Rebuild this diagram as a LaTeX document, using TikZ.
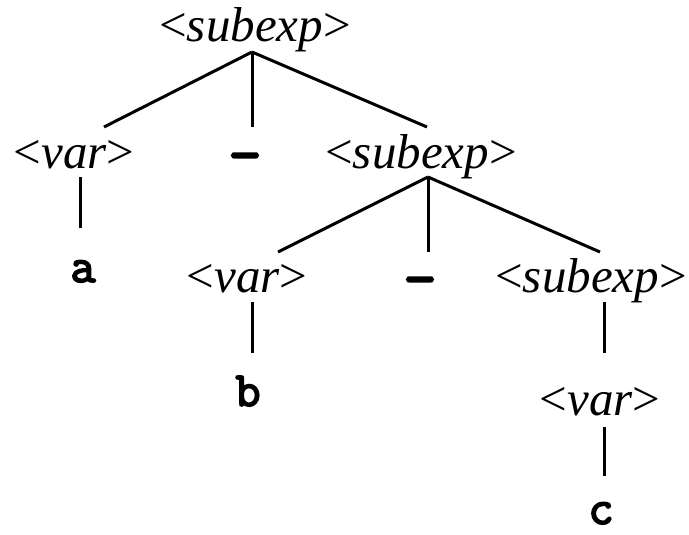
\documentclass[tikz,border=0pt]{standalone}
\usepackage{fontspec}
\setmainfont{Liberation Serif}
\newfontfamily\termfont[FakeBold=3.5]{Latin Modern Mono}
\usepackage{tikz}
\usetikzlibrary{positioning}

\newcommand{\nt}[1]{<\textit{#1}>}

\begin{document}
\begin{tikzpicture}[x=1pt,y=-1pt,
nterm/.style={inner sep=0pt,anchor=base,font=\fontsize{49}{57}\selectfont},
term/.style={inner sep=0pt,anchor=base,font=\fontsize{49}{57}\termfont},
dashsym/.style={term,font=\fontsize{64}{70}\termfont},
edge/.style={line width=3pt}]
\useasboundingbox (0,0) rectangle (689,535);
\node[nterm] (root) at (255,42) {\nt{subexp}};
\node[nterm] (varA) at (74,168) {\nt{var}};
\node[dashsym] (minA) at (245,175) {-};
\node[nterm] (subA) at (421,168) {\nt{subexp}};
\node[term] (a) at (83,282) {a};
\node[nterm] (varB) at (247,292) {\nt{var}};
\node[dashsym] (minB) at (420,299) {-};
\node[nterm] (subB) at (591,292) {\nt{subexp}};
\node[term] (b) at (248,406) {b};
\node[nterm] (varC) at (600,415) {\nt{var}};
\node[term] (c) at (601,524) {c};
\draw[edge] ([xshift=-3pt,yshift=-10pt]root.base)--([xshift=30pt,yshift=41pt]varA.base); \draw[edge] ([xshift=-3pt,yshift=-10pt]root.base)--([xshift=7pt,yshift=48pt]minA.base); \draw[edge] ([xshift=-3pt,yshift=-10pt]root.base)--([xshift=6pt,yshift=41pt]subA.base);
\draw[edge] ([xshift=6pt,yshift=-9pt]varA.base)--([xshift=-3pt,yshift=54pt]a.base);
\draw[edge] ([xshift=7pt,yshift=-9pt]subA.base)--([xshift=31pt,yshift=40pt]varB.base); \draw[edge] ([xshift=7pt,yshift=-9pt]subA.base)--([xshift=8pt,yshift=47pt]minB.base); \draw[edge] ([xshift=7pt,yshift=-9pt]subA.base)--([xshift=9pt,yshift=40pt]subB.base);
\draw[edge] ([xshift=5pt,yshift=-10pt]varB.base)--([xshift=4pt,yshift=53pt]b.base);
\draw[edge] ([xshift=13pt,yshift=-10pt]subB.base)--([xshift=4pt,yshift=62pt]varC.base);
\draw[edge] ([xshift=4pt,yshift=-12pt]varC.base)--([xshift=3pt,yshift=48pt]c.base);
\end{tikzpicture}
\end{document}
